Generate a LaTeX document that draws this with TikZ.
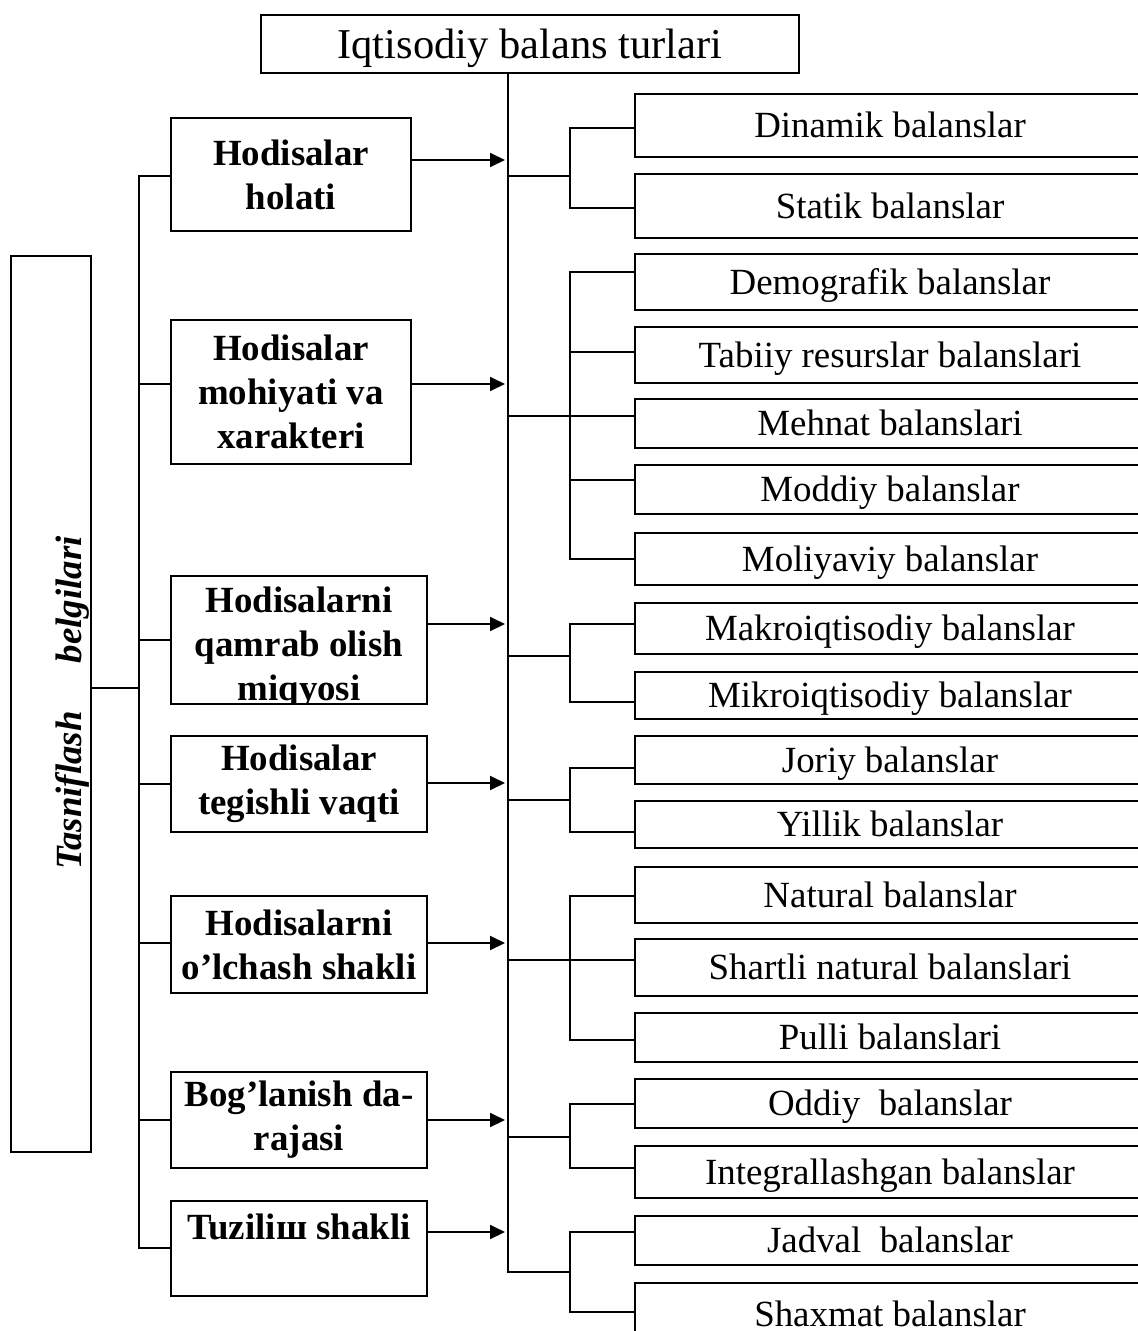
\documentclass[tikz,border=0pt]{standalone}
\usepackage{fontspec}
\setmainfont{Liberation Serif}
\usetikzlibrary{arrows.meta}

\begin{document}
\begin{tikzpicture}[
        x=0.02cm, y=-0.02cm,
        >={Triangle[length=0.3cm,width=0.28cm]},
        line width=1.1pt,
        line cap=rect,
        title/.style={
            draw,
            inner sep=0pt,
            minimum width=10.76cm,
            minimum height=1.16cm,
            text height=21.5pt,
            text depth=5.2pt,
            font=\fontsize{24.2}{29}\selectfont
        },
        kind/.style={
            draw,
            inner sep=0pt,
            align=center,
            font=\fontsize{21}{25}\selectfont\bfseries
        },
        leaf/.style={
            draw,
            inner sep=0pt,
            minimum width=10.2cm,
            text height=18.7pt,
            text depth=4.5pt,
            font=\fontsize{21}{25}\selectfont
        },
        arr/.style={
            ->,
            line cap=butt
        }
    ]

    \useasboundingbox (0,0) rectangle (1138,1331);

    \node[title] (top) at (530,44) {Iqtisodiy balans turlari};

    % yon tomondagi belgi
    \node[draw, minimum width=1.6cm, minimum height=17.92cm] (side) at (51,704) {};
    \node[rotate=90, font=\fontsize{21}{25}\selectfont\bfseries\itshape] (sidetxt) at (72,703) {Tasniflash\hspace{0.96cm}belgilari};
    \draw (side.east |- 0,688) -- (139,688);
    \draw (139,176) -- (139,1248);

    % tasniflash belgilari
    \foreach \n/\xc/\yc/\w/\h/\ly/\ay/\txt in {
        k1/291/174.5/4.8/2.26/176/160/{Hodisalar\\holati},
        k2/291/392/4.8/2.88/384/384/{Hodisalar\\mohiyati va\\xarakteri},
        k3/299/640/5.12/2.56/640/624/{},
        k4/299/784/5.12/1.92/784/783/{Hodisalar\\tegishli vaqti},
        k5/299/944.5/5.12/1.94/943/943/{Hodisalarni\\o’lchash shakli},
        k6/299/1120/5.12/1.92/1120/1120/{Bog’lanish da-\\rajasi},
        k7/299/1248.5/5.12/1.9/1248/1232/{Tuziliш shakli\\\mbox{}}} {
        \node[kind, minimum width=\w cm, minimum height=\h cm] (\n) at (\xc,\yc) {\txt};
        \draw (\n.west |- 0,\ly) -- (139,\ly);
        \draw[arr] (\n.east |- 0,\ay) -- (505,\ay);
    }

    \begin{scope}
        \clip (k3.south west) rectangle (k3.north east);
        \node[kind, draw=none] (k3txt) at (299,648) {Hodisalarni\\qamrab olish\\miqyosi};
    \end{scope}

    % asosiy chiziq
    \coordinate (tr) at (508,1272);
    \draw (top.south -| tr) -- (tr);

    % balans turlari
    \foreach \n/\yt/\yb/\by/\txt in {
        r1/94/157/128/Dinamik balanslar,
        r2/174/238/208/Statik balanslar,
        r3/254/310/272/Demografik balanslar,
        r4/327/383/352/Tabiiy resurslar balanslari,
        r5/399/448/416/Mehnat balanslari,
        r6/465/514/480/Moddiy balanslar,
        r7/533/585/559/Moliyaviy balanslar,
        r8/603/654/624/Makroiqtisodiy balanslar,
        r9/672/719/702/Mikroiqtisodiy balanslar,
        r10/736/784/768/Joriy balanslar,
        r11/801/848/832/Yillik balanslar,
        r12/867/923/896/Natural balanslar,
        r13/939/996/960/Shartli natural balanslari,
        r14/1013/1062/1040/Pulli balanslari,
        r15/1079/1128/1104/Oddiy\ \ balanslar,
        r16/1146/1198/1168/Integrallashgan balanslar,
        r17/1216/1265/1232/Jadval\ \ balanslar,
        r18/1283/1345/1312/Shaxmat balanslar} {
        \node[leaf, minimum height={(\yb-\yt)*0.02cm}] (\n) at (890,{(\yt+\yb)/2}) {\txt};
        \draw (\n.west |- 0,\by) -- (570,\by);
    }

    \foreach \ya/\yz/\yj in {128/208/176, 272/559/416, 624/702/656, 768/832/800,
        896/1040/960, 1104/1168/1137, 1232/1312/1272} {
        \draw (570,\ya) -- (570,\yz);
        \draw (tr |- 0,\yj) -- (570,\yj);
    }

\end{tikzpicture}
\end{document}
